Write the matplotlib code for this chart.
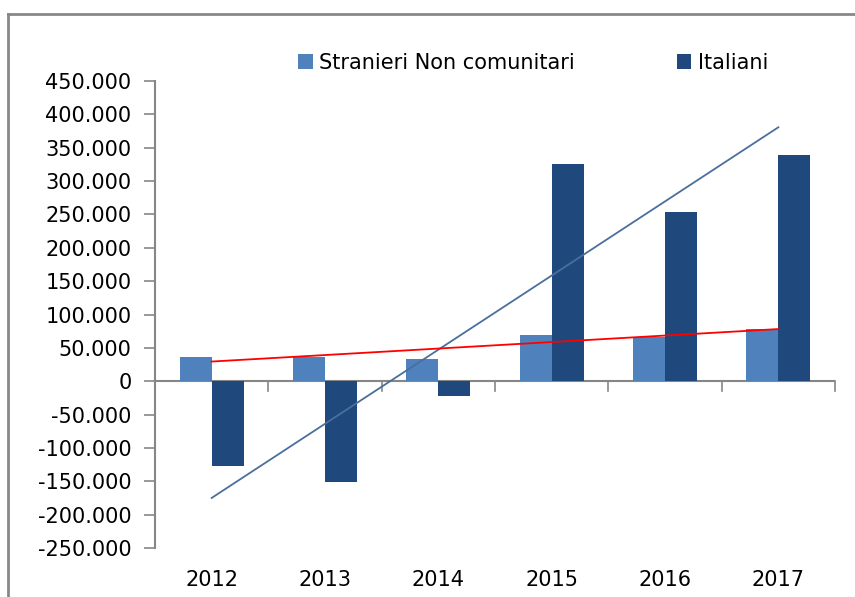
import numpy as np
import matplotlib
matplotlib.use("Agg")
import matplotlib.pyplot as plt
from matplotlib.lines import Line2D
from matplotlib.ticker import FuncFormatter, FixedLocator

# ===== dati =====
anni = ["2012", "2013", "2014", "2015", "2016", "2017"]
stranieri = [36000, 37000, 34000, 70000, 67000, 79000]       # Stranieri Non comunitari
italiani = [-127000, -151000, -22000, 325000, 253000, 339000]  # Italiani

col_str = "#4f81bd"
col_ita = "#1f497d"
fs = 15

fig = plt.figure(figsize=(8.55, 5.97), dpi=100)
ax = fig.add_axes([155 / 855, 1 - 548 / 597, 680 / 855, 467 / 597])

x = np.arange(len(anni))
w = 0.283
ax.bar(x - w / 2, stranieri, w, color=col_str, label="Stranieri Non comunitari", zorder=2)
ax.bar(x + w / 2, italiani, w, color=col_ita, label="Italiani", zorder=2)

# linee di tendenza (regressione lineare)
p_ita = np.polyfit(x, italiani, 1)
p_str = np.polyfit(x, stranieri, 1)
ax.plot(x[[0, -1]], np.polyval(p_ita, x[[0, -1]]), color="#4a6f9c", lw=1.3, zorder=3)
ax.plot(x[[0, -1]], np.polyval(p_str, x[[0, -1]]), color="#ff0000", lw=1.3, zorder=3)

ax.set_xlim(-0.5, len(anni) - 0.5)
ax.set_ylim(-250000, 450000)
ax.yaxis.set_major_locator(FixedLocator(np.arange(-250000, 450001, 50000)))
ax.yaxis.set_major_formatter(FuncFormatter(lambda v, p: f"{int(v):,}".replace(",", ".")))
ax.tick_params(axis="y", direction="out", length=8, width=1.2, color="#868686",
               labelsize=fs, pad=9)

# asse x: linea sullo zero, tacche tra le categorie, etichette in basso
for s in ["top", "right", "bottom"]:
    ax.spines[s].set_visible(False)
ax.spines["left"].set_color("#868686")
ax.spines["left"].set_linewidth(1.5)
ax.axhline(0, color="#868686", lw=1.5, zorder=1)
ax.set_xticks([])
for b in np.arange(0.5, len(anni) - 0.5 + 0.01, 1.0):
    ax.plot([b, b], [0, -15000], color="#868686", lw=1.2, clip_on=False)
for i, a in enumerate(anni):
    ax.text(i, -298000, a, ha="center", va="center", fontsize=fs)

ax.legend(loc="center left", bbox_to_anchor=(298 / 855, 1 - 63 / 597),
          bbox_transform=fig.transFigure, ncol=2, frameon=False,
          borderpad=0, borderaxespad=0,
          fontsize=fs, handlelength=0.7, handleheight=0.7, handletextpad=0.3,
          columnspacing=4.9)

# cornice esterna
fig.add_artist(Line2D([8 / 855, 8 / 855], [0, 1 - 14 / 597], color="#888888", lw=2))
fig.add_artist(Line2D([8 / 855, 1], [1 - 14 / 597, 1 - 14 / 597], color="#888888", lw=2))

fig.savefig("out.png", dpi=100)
